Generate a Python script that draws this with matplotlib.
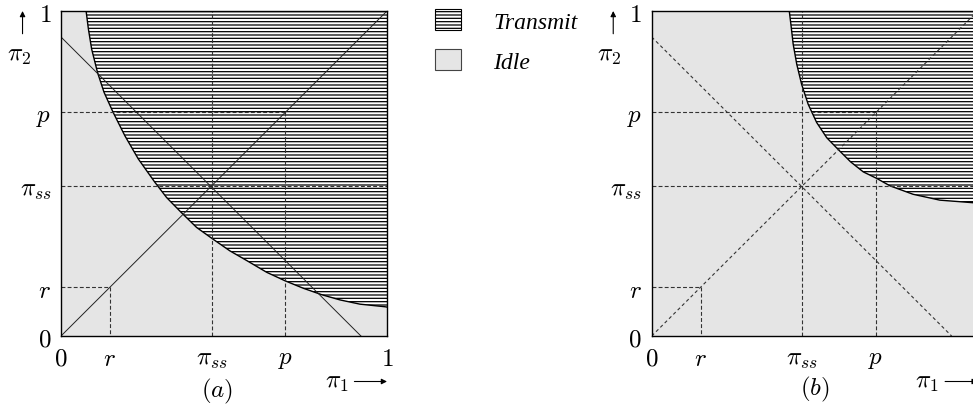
import matplotlib
matplotlib.use("Agg")
import matplotlib.pyplot as plt
from matplotlib.patches import Patch

plt.rcParams['mathtext.fontset'] = 'cm'
plt.rcParams['hatch.linewidth'] = 0.9

R = 0.15
PI_SS = 0.462
P = 0.688
ANTI = 0.92

TICKS = [0, R, PI_SS, P, 1]
TICK_LABELS = ['$0$', '$r$', r'$\pi_{ss}$', '$p$', '$1$']

# boundary between Idle and Transmit
CURVE_A_X = [0.077, 0.084, 0.094, 0.112, 0.132, 0.160, 0.196, 0.237, 0.288, 0.324, 0.368,
             0.416, 0.462, 0.518, 0.570, 0.631, 0.687, 0.743, 0.800, 0.856, 0.917, 0.994, 1.000]
CURVE_A_Y = [1.000, 0.945, 0.883, 0.811, 0.750, 0.688, 0.616, 0.545, 0.473, 0.426, 0.381,
             0.334, 0.301, 0.262, 0.232, 0.196, 0.170, 0.147, 0.127, 0.111, 0.098, 0.090, 0.089]

CURVE_B_X = [0.422, 0.427, 0.434, 0.445, 0.460, 0.480, 0.506, 0.537, 0.572, 0.610, 0.649,
             0.690, 0.731, 0.802, 0.884, 0.987, 1.000]
CURVE_B_Y = [1.000, 0.959, 0.898, 0.836, 0.774, 0.713, 0.657, 0.610, 0.574, 0.536, 0.505,
             0.485, 0.462, 0.436, 0.418, 0.410, 0.410]

GREY = '#e5e5e5'
HATCH = '-----'
FS = 18


def panel(ax, cx, cy, diag_style):
    ax.set_facecolor(GREY)
    ax.fill(cx + [1.0], cy + [1.0], facecolor='white', edgecolor='black',
            hatch=HATCH, linewidth=0)
    ax.plot(cx, cy, color='black', lw=1.0)

    dash = dict(color='#333333', lw=0.8, ls=(0, (3.5, 2)))
    ax.plot([0, P], [P, P], **dash)
    ax.plot([P, P], [P, 0], **dash)
    ax.plot([0, R], [R, R], **dash)
    ax.plot([R, R], [R, 0], **dash)
    ax.plot([0, 1], [PI_SS, PI_SS], **dash)
    ax.plot([PI_SS, PI_SS], [0, 1], **dash)

    ax.plot([0, 1], [0, 1], **diag_style)
    ax.plot([0, ANTI], [ANTI, 0], **diag_style)

    ax.set_xlim(0, 1)
    ax.set_ylim(0, 1)
    ax.set_xticks(TICKS, TICK_LABELS)
    ax.set_yticks(TICKS, TICK_LABELS)
    ax.tick_params(length=0, pad=7, labelsize=FS)
    for s in ax.spines.values():
        s.set_linewidth(1.0)


def main():
    fig = plt.figure(figsize=(9.73, 4.10), dpi=100)
    ax1 = fig.add_axes([61 / 973, 73 / 410, 326 / 973, 325 / 410])
    ax2 = fig.add_axes([651.7 / 973, 73 / 410, 326 / 973, 325 / 410])

    panel(ax1, CURVE_A_X, CURVE_A_Y, dict(color='#222222', lw=0.7, ls='-'))
    panel(ax2, CURVE_B_X, CURVE_B_Y, dict(color='#333333', lw=0.8, ls=(0, (3, 2.5))))

    for ax, lab, lx, ly in [(ax1, '$(a)$', 0.479, -0.168), (ax2, '$(b)$', 0.501, -0.162)]:
        ax.text(lx, ly, lab, transform=ax.transAxes, ha='center', va='center',
                fontsize=FS, clip_on=False)
        ax.text(0.845, -0.14, r'$\pi_1$', transform=ax.transAxes, ha='center',
                va='center', fontsize=FS, clip_on=False)
        ax.annotate('', xy=(1.0, -0.14), xytext=(0.9, -0.14), xycoords='axes fraction',
                    arrowprops=dict(arrowstyle='-|>', lw=0.8, color='black',
                                    mutation_scale=8, shrinkA=0, shrinkB=0))
        ax.text(-0.13, 0.868, r'$\pi_2$', transform=ax.transAxes, ha='center',
                va='center', fontsize=FS, clip_on=False)
        ax.annotate('', xy=(-0.118, 1.0), xytext=(-0.118, 0.93), xycoords='axes fraction',
                    arrowprops=dict(arrowstyle='-|>', lw=0.8, color='black',
                                    mutation_scale=8, shrinkA=0, shrinkB=0))

    handles = [Patch(facecolor='white', edgecolor='black', hatch=HATCH, lw=0.8),
               Patch(facecolor=GREY, edgecolor='#444444', lw=0.8)]
    fig.legend(handles, ['Transmit', 'Idle'], loc='upper left',
               bbox_to_anchor=(435 / 973, 1 - 10 / 410), frameon=False, borderpad=0,
               borderaxespad=0, handlelength=1.1, handleheight=1.02, handletextpad=1.36,
               labelspacing=0.68, prop=dict(family='Liberation Serif', style='italic', size=17))

    fig.savefig('out.png', dpi=100)


if __name__ == "__main__":
    main()
